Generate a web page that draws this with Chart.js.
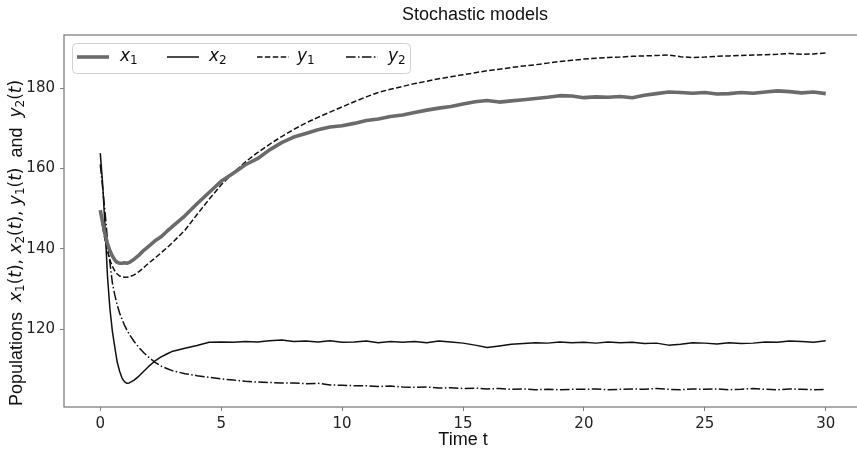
<!DOCTYPE html>
<html>
<head>
<meta charset="utf-8">
<script src="https://cdn.jsdelivr.net/npm/chart.js@4.4.1/dist/chart.umd.min.js"></script>
<style>
  html, body { margin: 0; padding: 0; background: #fff; overflow: hidden; }
  #wrap { width: 870px; height: 454px; }
</style>
</head>
<body>
<div id="wrap"><canvas id="stochChart" width="870" height="454"></canvas></div>
<script>
// time points (shared by all four series)
const times = [0, 0.1, 0.2, 0.3, 0.4, 0.5, 0.6, 0.7, 0.8, 0.9, 1.0, 1.1, 1.2, 1.4, 1.6, 1.8, 2.0, 2.25, 2.5, 2.75,
  3.0, 3.5, 4.0, 4.5, 5.0, 5.5, 6.0, 6.5, 7.0, 7.5, 8.0, 8.5, 9.0, 9.5, 10.0, 10.5, 11.0, 11.5, 12.0, 12.5,
  13.0, 13.5, 14.0, 14.5, 15.0, 15.5, 16.0, 16.5, 17.0, 17.5, 18.0, 18.5, 19.0, 19.5, 20.0, 20.5, 21.0, 21.5,
  22.0, 22.5, 23.0, 23.5, 24.0, 24.5, 25.0, 25.5, 26.0, 26.5, 27.0, 27.5, 28.0, 28.5, 29.0, 29.5, 30.0];

const x1 = [149.6, 146.5, 143.5, 141.2, 139.5, 138.2, 137.2, 136.6, 136.4, 136.4, 136.5, 136.4, 136.6, 137.4, 138.4, 139.6, 140.6, 141.9, 142.9, 144.3,
  145.6, 148.2, 151.2, 154.0, 156.8, 158.8, 160.9, 162.4, 164.6, 166.4, 167.8, 168.7, 169.6, 170.3, 170.6, 171.2, 171.9, 172.3, 172.9, 173.3,
  173.9, 174.5, 175.0, 175.4, 176.0, 176.6, 176.9, 176.5, 176.8, 177.1, 177.4, 177.7, 178.1, 178.0, 177.6, 177.8, 177.7, 177.9,
  177.6, 178.2, 178.6, 179.0, 178.9, 178.7, 178.9, 178.5, 178.6, 178.9, 178.7, 179.0, 179.3, 179.1, 178.8, 179.0, 178.6];

const x2 = [163.8, 156.0, 145.0, 133.0, 125.0, 119.5, 115.5, 111.8, 109.5, 107.8, 106.9, 106.5, 106.6, 107.3, 108.3, 109.5, 110.7, 112.0, 113.0, 113.8,
  114.5, 115.2, 115.9, 116.7, 116.8, 116.7, 116.9, 116.8, 117.1, 117.3, 116.9, 117.0, 116.8, 117.1, 116.7, 116.8, 117.0, 116.6, 116.9, 116.7,
  116.9, 116.6, 117.0, 116.8, 116.5, 116.0, 115.4, 115.8, 116.2, 116.4, 116.6, 116.5, 116.8, 116.6, 116.7, 116.5, 116.8, 116.6,
  116.7, 116.4, 116.5, 116.0, 116.2, 116.6, 116.5, 116.3, 116.6, 116.4, 116.5, 116.8, 116.7, 117.0, 116.9, 116.7, 117.1];

const y1 = [149.0, 145.5, 142.0, 139.3, 137.2, 135.6, 134.5, 133.7, 133.2, 133.0, 132.9, 132.9, 133.0, 133.5, 134.3, 135.3, 136.4, 137.6, 138.9, 140.2,
  141.6, 144.6, 148.5, 152.3, 155.9, 158.9, 161.6, 163.9, 166.0, 167.9, 169.7, 171.3, 172.7, 174.0, 175.3, 176.6, 177.8, 178.9, 179.7, 180.4,
  181.1, 181.7, 182.3, 182.8, 183.3, 183.8, 184.3, 184.7, 185.1, 185.5, 185.8, 186.2, 186.6, 186.9, 187.2, 187.4, 187.6, 187.7,
  187.9, 188.0, 188.1, 188.2, 187.8, 187.6, 187.7, 187.9, 188.0, 188.1, 188.2, 188.3, 188.4, 188.6, 188.4, 188.5, 188.7];

const y2 = [161.0, 155.0, 149.0, 142.0, 136.5, 131.5, 128.5, 126.0, 124.0, 122.4, 121.0, 119.8, 118.7, 116.9, 115.4, 114.1, 113.0, 111.8, 110.8, 110.2,
  109.6, 108.9, 108.4, 108.0, 107.6, 107.3, 107.0, 106.8, 106.7, 106.6, 106.6, 106.4, 106.5, 106.1, 106.0, 105.9, 105.9, 105.7, 105.8, 105.6,
  105.5, 105.6, 105.3, 105.4, 105.2, 105.3, 105.1, 105.2, 105.0, 105.1, 104.9, 105.0, 104.9, 105.0, 105.0, 105.1, 104.9, 105.0,
  105.1, 105.0, 105.2, 105.0, 104.9, 105.1, 105.0, 105.1, 104.9, 105.0, 105.2, 105.0, 104.9, 105.1, 105.0, 104.9, 105.0];

const xTicks = [0, 5, 10, 15, 20, 25, 30];
const yTicks = [120, 140, 160, 180];

const SANS = '"Liberation Sans", Arial, sans-serif';
const MATH = '"DejaVu Sans", sans-serif';
const SPINE = '#808080';

function pts(ys) {
  return times.map((t, i) => ({ x: t, y: ys[i] }));
}

// draws a list of [text, font, dy] runs from (x, y), returns total width
function drawRuns(ctx, runs, x, y, measureOnly) {
  let w = 0;
  runs.forEach(r => {
    ctx.font = r[1];
    if (!measureOnly) ctx.fillText(r[0], x + w, y + (r[2] || 0));
    w += ctx.measureText(r[0]).width;
  });
  return w;
}

function mathSym(letter, sub, size) {
  return [
    [letter, 'italic ' + size + 'px ' + MATH, 0],
    [sub, Math.round(size * 0.7) + 'px ' + MATH, Math.round(size * 0.22)]
  ];
}

const decorations = {
  id: 'decorations',
  afterDraw(chart) {
    const ctx = chart.ctx;
    const a = chart.chartArea;
    ctx.save();

    // frame
    ctx.strokeStyle = SPINE;
    ctx.lineWidth = 1.3;
    ctx.strokeRect(a.left, a.top, a.right - a.left, a.bottom - a.top);

    // title
    ctx.fillStyle = '#111';
    ctx.textBaseline = 'middle';
    ctx.textAlign = 'center';
    ctx.font = '18px ' + SANS;
    ctx.fillText('Stochastic models', 475, 15);

    // x label
    ctx.font = '18px ' + SANS;
    ctx.fillText('Time t', 463, 440);

    // y label (rotated, mixed fonts)
    ctx.textAlign = 'left';
    const s = 17;
    const rm = s + 'px ' + MATH;
    const it = 'italic ' + s + 'px ' + MATH;
    const runs = [['Populations  ', '18px ' + SANS, 0]]
      .concat(mathSym('x', '1', s), [['(', rm], ['t', it], ['), ', rm]])
      .concat(mathSym('x', '2', s), [['(', rm], ['t', it], ['), ', rm]])
      .concat(mathSym('y', '1', s), [['(', rm], ['t', it], [')', rm]])
      .concat([['  and  ', '18px ' + SANS, 0]])
      .concat(mathSym('y', '2', s), [['(', rm], ['t', it], [')', rm]]);
    ctx.translate(17, 243);
    ctx.rotate(-Math.PI / 2);
    const total = drawRuns(ctx, runs, 0, 0, true);
    drawRuns(ctx, runs, -total / 2, 0, false);
    ctx.setTransform(1, 0, 0, 1, 0, 0);

    // legend box
    ctx.fillStyle = 'rgba(255,255,255,0.85)';
    ctx.strokeStyle = '#d0d0d0';
    ctx.lineWidth = 1;
    ctx.beginPath();
    ctx.roundRect(72.5, 43.5, 338, 30, 4);
    ctx.fill();
    ctx.stroke();

    const items = [[77, 120, 'x', '1'], [167, 209, 'x', '2'], [257, 297, 'y', '1'], [346, 388, 'y', '2']];
    const cy = 57;
    items.forEach((it2, i) => {
      const ds = chart.data.datasets[i];
      ctx.strokeStyle = ds.borderColor;
      ctx.lineWidth = ds.borderWidth;
      ctx.setLineDash(ds.borderDash || []);
      ctx.beginPath();
      ctx.moveTo(it2[0], cy);
      ctx.lineTo(it2[0] + 32, cy);
      ctx.stroke();
      ctx.setLineDash([]);
      ctx.fillStyle = '#111';
      ctx.textBaseline = 'middle';
      drawRuns(ctx, mathSym(it2[2], it2[3], 17), it2[1], cy, false);
    });

    ctx.restore();
  }
};

new Chart(document.getElementById('stochChart'), {
  type: 'line',
  data: {
    datasets: [
      { label: 'x1', data: pts(x1), borderColor: '#6b6b6b', borderWidth: 3.6 },
      { label: 'x2', data: pts(x2), borderColor: '#111111', borderWidth: 1.5 },
      { label: 'y1', data: pts(y1), borderColor: '#111111', borderWidth: 1.5, borderDash: [5.5, 2.4] },
      { label: 'y2', data: pts(y2), borderColor: '#111111', borderWidth: 1.5, borderDash: [9.6, 2.4, 1.5, 2.4] }
    ]
  },
  options: {
    responsive: false,
    animation: false,
    devicePixelRatio: 1,
    layout: { padding: { left: 0, top: 35, right: 8, bottom: 0 } },
    elements: { point: { radius: 0 }, line: { tension: 0, borderJoinStyle: 'round', borderCapStyle: 'butt' } },
    plugins: { legend: { display: false }, tooltip: { enabled: false }, title: { display: false } },
    scales: {
      x: {
        type: 'linear',
        min: -1.5,
        max: 31.5,
        afterBuildTicks: scale => { scale.ticks = xTicks.map(v => ({ value: v })); },
        afterFit: scale => { scale.height = 47; },
        grid: { display: true, drawOnChartArea: false, tickLength: 4, color: SPINE },
        border: { display: false },
        ticks: { font: { family: MATH, size: 15 }, color: '#222', padding: 4, maxRotation: 0 }
      },
      y: {
        type: 'linear',
        min: 100.6,
        max: 193.2,
        afterBuildTicks: scale => { scale.ticks = yTicks.map(v => ({ value: v })); },
        afterFit: scale => { scale.width = 64; },
        grid: { display: true, drawOnChartArea: false, tickLength: 4, color: SPINE },
        border: { display: false },
        ticks: { font: { family: MATH, size: 15 }, color: '#222', padding: 5 }
      }
    }
  },
  plugins: [decorations]
});
</script>
</body>
</html>
